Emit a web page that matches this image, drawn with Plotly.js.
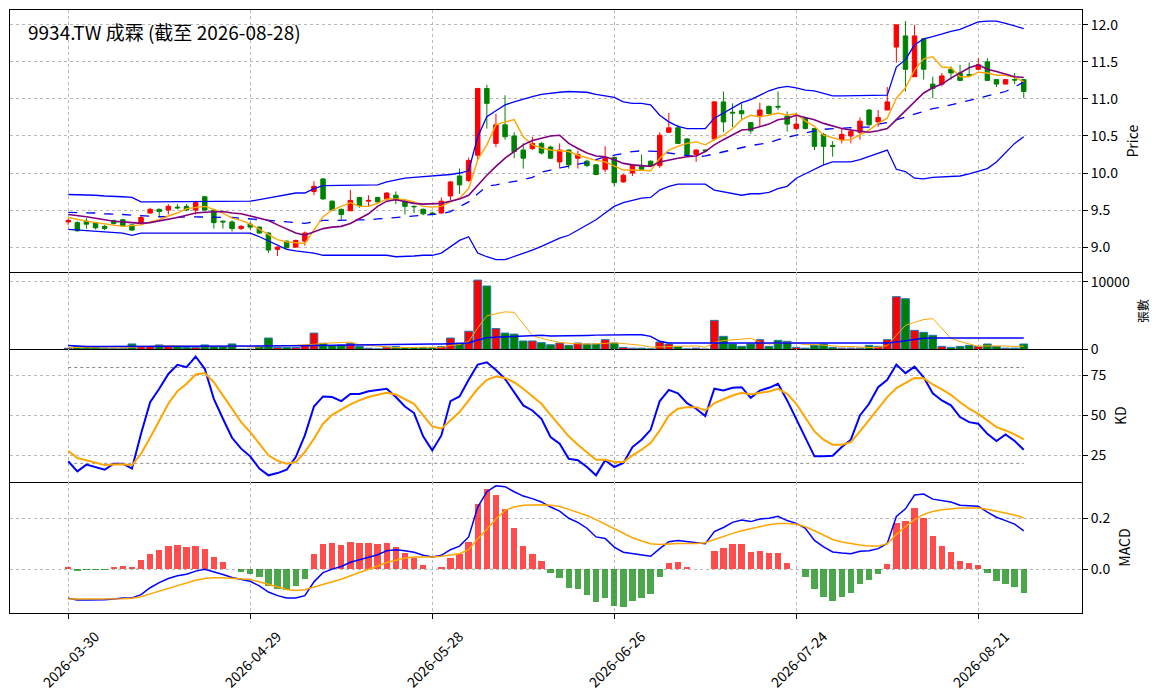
<!DOCTYPE html>
<html>
<head>
<meta charset="utf-8">
<script src="https://cdn.plot.ly/plotly-3.0.1.min.js"></script>
<style>
  html, body { margin: 0; padding: 0; background: #fff; }
  #plot { width: 1163px; height: 698px; }
</style>
</head>
<body>
<div id="plot"></div>
<script>
// trading calendar (TWSE holidays inside the window)
var startDay = '2026-03-30';
var endDay = '2026-08-28';
var holidays = ['2026-04-03', '2026-04-06', '2026-05-01', '2026-06-19'];
var tickDates = ['2026-03-30', '2026-04-29', '2026-05-28', '2026-06-26', '2026-07-24', '2026-08-21'];

// candles
var opens = [9.34,9.33,9.35,9.33,9.28,9.36,9.37,9.30,9.32,9.46,
  9.51,9.50,9.54,9.55,9.50,9.68,9.50,9.35,9.34,9.25,
  9.31,9.27,9.19,8.97,9.08,9.00,9.08,9.75,9.92,9.62,
  9.51,9.49,9.67,9.62,9.67,9.65,9.70,9.62,9.55,9.51,
  9.46,9.46,9.69,9.96,9.90,10.24,11.14,10.40,10.65,10.50,
  10.31,10.33,10.40,10.35,10.15,10.31,10.20,10.16,10.11,10.05,
  10.21,9.88,10.00,10.10,10.16,10.10,10.55,10.61,10.46,10.25,
  10.31,10.46,10.96,10.82,10.84,10.68,10.76,10.90,10.90,10.77,
  10.60,10.74,10.60,10.52,10.37,10.45,10.50,10.55,10.85,10.69,
  10.85,11.70,11.85,11.30,11.81,11.20,11.20,11.40,11.35,11.33,
  11.40,11.50,11.26,11.20,11.26,11.26];
var highs = [9.39,9.35,9.39,9.34,9.30,9.37,9.38,9.31,9.43,9.53,
  9.52,9.58,9.58,9.58,9.61,9.69,9.50,9.36,9.36,9.30,
  9.34,9.28,9.20,9.01,9.09,9.10,9.21,9.89,9.93,9.63,
  9.52,9.77,9.68,9.70,9.68,9.74,9.75,9.64,9.56,9.52,
  9.48,9.67,9.89,10.06,10.21,11.15,11.19,10.80,11.05,10.55,
  10.40,10.49,10.42,10.37,10.40,10.32,10.30,10.18,10.12,10.36,
  10.22,9.99,10.12,10.25,10.17,10.55,10.81,10.65,10.47,10.32,
  10.32,10.97,11.10,10.94,10.94,10.69,10.95,10.91,11.10,10.83,
  10.81,10.75,10.61,10.54,10.43,10.60,10.60,10.75,10.86,10.85,
  11.16,12.00,12.05,12.00,11.82,11.30,11.35,11.44,11.46,11.49,
  11.55,11.55,11.27,11.27,11.35,11.27];
var lows = [9.30,9.21,9.25,9.24,9.23,9.30,9.28,9.22,9.31,9.45,
  9.42,9.44,9.51,9.49,9.44,9.49,9.25,9.25,9.21,9.23,
  9.23,9.18,8.92,8.88,8.98,8.99,9.02,9.70,9.64,9.49,
  9.37,9.49,9.53,9.55,9.60,9.63,9.58,9.44,9.46,9.43,
  9.43,9.45,9.63,9.72,9.88,10.18,10.60,10.35,10.45,10.20,
  10.06,10.31,10.25,10.19,10.06,10.06,10.06,10.08,9.97,10.01,
  9.82,9.87,9.96,10.04,10.09,10.07,10.54,10.39,10.24,10.15,
  10.29,10.44,10.55,10.62,10.73,10.53,10.62,10.79,10.85,10.56,
  10.58,10.59,10.31,10.11,10.22,10.40,10.40,10.45,10.64,10.62,
  10.85,11.49,11.10,11.30,11.26,11.01,11.17,11.26,11.24,11.31,
  11.39,11.25,11.16,11.20,11.20,11.01];
var closes = [9.36,9.22,9.31,9.26,9.25,9.32,9.29,9.23,9.40,9.51,
  9.48,9.55,9.53,9.50,9.60,9.50,9.33,9.34,9.25,9.28,
  9.27,9.19,8.96,9.00,8.99,9.09,9.19,9.82,9.65,9.50,
  9.44,9.63,9.56,9.63,9.61,9.73,9.64,9.55,9.545,9.45,
  9.45,9.62,9.88,9.84,10.17,11.14,10.94,10.65,10.49,10.29,
  10.20,10.40,10.27,10.20,10.31,10.11,10.25,10.10,9.98,10.21,
  9.87,9.97,10.11,10.05,10.10,10.51,10.61,10.40,10.25,10.31,
  10.30,10.96,10.69,10.81,10.80,10.57,10.85,10.80,10.89,10.66,
  10.66,10.60,10.36,10.36,10.36,10.52,10.56,10.70,10.65,10.75,
  10.96,12.00,11.40,11.85,11.40,11.14,11.31,11.35,11.25,11.32,
  11.46,11.25,11.20,11.26,11.255,11.10];

// moving averages and bollinger bands
var ma5 = [9.40,9.37,9.35,9.33,9.31,9.30,9.28,9.29,9.30,9.34,
  9.37,9.42,9.46,9.52,9.54,9.55,9.51,9.46,9.39,9.36,
  9.31,9.24,9.18,9.10,9.07,9.06,9.05,9.23,9.41,9.50,
  9.55,9.60,9.55,9.55,9.59,9.65,9.65,9.64,9.61,9.55,
  9.54,9.55,9.61,9.66,9.79,10.18,10.38,10.65,10.69,10.72,
  10.49,10.38,10.34,10.31,10.30,10.29,10.24,10.20,10.17,10.15,
  10.10,10.04,10.04,10.04,10.03,10.20,10.31,10.36,10.40,10.42,
  10.38,10.45,10.51,10.60,10.72,10.78,10.76,10.78,10.81,10.78,
  10.80,10.70,10.63,10.51,10.47,10.44,10.45,10.51,10.58,10.67,
  10.74,11.01,11.15,11.39,11.54,11.57,11.43,11.42,11.30,11.30,
  11.36,11.35,11.32,11.32,11.29,11.23];
var ma10 = [9.44,9.43,9.41,9.39,9.37,9.35,9.34,9.33,9.32,9.33,
  9.35,9.37,9.40,9.43,9.46,9.47,9.48,9.48,9.46,9.45,
  9.42,9.39,9.36,9.30,9.25,9.19,9.16,9.21,9.25,9.27,
  9.28,9.32,9.39,9.45,9.55,9.62,9.64,9.61,9.59,9.58,
  9.58,9.59,9.62,9.65,9.70,9.84,9.97,10.09,10.20,10.29,
  10.38,10.44,10.47,10.50,10.51,10.40,10.33,10.27,10.23,10.22,
  10.18,10.13,10.11,10.10,10.09,10.15,10.18,10.20,10.22,10.23,
  10.29,10.38,10.45,10.51,10.58,10.59,10.63,10.66,10.72,10.74,
  10.78,10.75,10.72,10.67,10.63,10.60,10.58,10.56,10.55,10.57,
  10.60,10.72,10.84,10.96,11.08,11.15,11.20,11.28,11.35,11.42,
  11.46,11.40,11.37,11.34,11.30,11.29];
var bbMid = [9.47,9.47,9.46,9.46,9.45,9.45,9.44,9.43,9.42,9.42,
  9.41,9.41,9.40,9.41,9.41,9.41,9.41,9.40,9.40,9.39,
  9.38,9.37,9.36,9.35,9.35,9.33,9.32,9.34,9.36,9.36,
  9.36,9.37,9.37,9.37,9.38,9.39,9.40,9.41,9.42,9.43,
  9.43,9.45,9.48,9.55,9.61,9.72,9.82,9.84,9.86,9.88,
  9.91,9.94,10.01,10.04,10.07,10.10,10.12,10.14,10.18,10.22,
  10.24,10.27,10.29,10.30,10.30,10.29,10.27,10.25,10.23,10.22,
  10.23,10.26,10.29,10.31,10.34,10.37,10.39,10.41,10.45,10.48,
  10.51,10.55,10.57,10.59,10.60,10.61,10.61,10.62,10.62,10.66,
  10.68,10.72,10.76,10.80,10.84,10.87,10.89,10.92,10.95,10.98,
  11.00,11.03,11.07,11.10,11.16,11.23];
var bbUpper = [9.71,9.71,9.70,9.70,9.69,9.69,9.68,9.67,9.61,9.61,
  9.61,9.61,9.61,9.61,9.61,9.61,9.61,9.61,9.61,9.61,
  9.62,9.64,9.66,9.68,9.70,9.73,9.73,9.79,9.83,9.83,
  9.83,9.83,9.83,9.84,9.84,9.88,9.91,9.93,9.94,9.95,
  9.95,9.97,9.98,10.00,10.03,10.49,10.76,10.84,10.92,10.96,
  11.00,11.03,11.06,11.08,11.09,11.10,11.10,11.09,11.06,11.04,
  11.02,10.96,10.94,10.94,10.92,10.78,10.69,10.63,10.60,10.60,
  10.60,10.74,10.81,10.87,10.95,10.99,11.05,11.11,11.15,11.17,
  11.15,11.12,11.11,11.07,11.04,11.04,11.04,11.04,11.04,11.04,
  11.05,11.43,11.53,11.73,11.81,11.84,11.88,11.91,11.94,11.99,
  12.04,12.05,12.05,12.02,11.99,11.95];
var bbLower = [9.24,9.23,9.22,9.22,9.21,9.20,9.19,9.16,9.19,9.19,
  9.19,9.19,9.19,9.19,9.19,9.19,9.19,9.19,9.19,9.19,
  9.19,9.14,9.08,9.03,8.97,8.95,8.94,8.92,8.89,8.89,
  8.89,8.89,8.89,8.89,8.89,8.89,8.87,8.87,8.88,8.89,
  8.89,8.92,9.00,9.09,9.14,8.92,8.87,8.83,8.83,8.87,
  8.92,8.96,9.01,9.07,9.12,9.16,9.23,9.31,9.37,9.46,
  9.55,9.60,9.63,9.66,9.67,9.77,9.82,9.85,9.85,9.85,
  9.85,9.77,9.75,9.72,9.70,9.72,9.72,9.74,9.79,9.82,
  9.93,9.99,10.05,10.11,10.15,10.15,10.15,10.18,10.22,10.27,
  10.31,10.05,10.02,9.93,9.92,9.94,9.95,9.95,9.96,9.99,
  10.02,10.06,10.15,10.27,10.40,10.49];

// volume (張)
var volumes = [190,430,290,340,190,150,190,820,430,430,
  670,430,430,290,290,670,430,430,820,60,
  60,430,1690,290,290,290,580,2420,910,580,
  670,910,430,190,100,340,430,290,290,290,
  290,430,1690,910,2700,10240,9370,3090,2420,2270,
  1260,1260,1010,700,950,610,950,810,810,1450,
  950,310,200,200,100,1100,810,460,100,200,
  80,4300,1940,810,460,810,1450,460,1350,1200,
  310,200,610,810,310,200,200,200,610,460,
  1450,7800,7500,2830,2530,2090,460,310,460,610,
  460,810,460,200,200,810];
var volMa5 = [300,290,290,290,290,280,230,340,360,400,
  510,560,480,450,420,420,420,420,530,480,
  360,360,610,510,550,600,630,770,900,960,
  1030,1100,700,560,460,390,300,270,290,330,
  320,320,600,720,1200,3190,4980,5260,5560,5480,
  3680,2060,1640,1300,1040,910,840,800,830,930,
  990,870,740,620,350,380,480,530,510,530,
  330,1030,1320,1470,1520,1660,1090,800,910,1050,
  950,700,730,630,450,430,430,340,300,330,
  580,2100,3560,4010,4420,4550,3080,1640,1170,790,
  460,530,560,510,430,500];
var volMa20 = [600,580,450,430,430,430,430,430,430,430,
  430,430,430,430,430,430,430,430,440,440,
  450,470,500,520,540,560,580,600,620,640,
  670,700,730,760,790,800,810,810,820,820,
  820,820,830,850,960,1400,1740,1820,1880,1930,
  1980,2050,2100,2000,2000,2050,2050,2080,2120,2160,
  2190,2190,2190,2190,1940,1200,950,950,950,950,
  900,870,850,850,850,850,850,850,850,850,
  850,850,850,850,850,850,850,880,900,920,
  950,1100,1300,1500,1650,1700,1700,1700,1700,1700,
  1700,1700,1700,1700,1700,1700];

// KD
var kLine = [21.3,15.0,19.2,17.7,16.0,19.8,19.8,16.7,38.5,58.3,
  66.7,76.0,81.7,80.2,86.9,79.2,60.4,47.9,36.0,29.2,
  24.4,16.7,12.5,13.9,16.0,23.9,37.5,55.6,61.9,61.5,
  59.0,63.5,63.5,65.2,66.0,66.7,61.5,55.6,51.5,36.9,
  28.1,37.5,59.0,61.9,72.3,81.9,83.3,78.5,72.9,64.6,
  56.3,53.1,47.9,36.5,32.3,22.9,21.9,17.7,12.5,21.9,
  17.7,20.2,30.2,34.8,41.0,59.0,66.0,63.9,57.7,54.2,
  49.6,66.7,65.6,67.3,67.7,61.0,65.6,67.3,69.8,59.4,
  47.9,36.0,24.4,24.4,24.8,30.2,34.8,50.0,57.3,67.7,
  72.3,81.9,76.5,80.6,73.9,63.9,59.4,56.3,49.0,45.8,
  44.8,38.5,34.0,38.1,34.0,28.5];
var dLine = [27.7,23.3,21.9,20.6,18.9,19.2,19.4,18.8,26.0,36.0,
  46.9,57.3,65.2,69.8,75.6,76.5,70.8,62.5,53.5,45.8,
  39.6,32.3,25.0,21.5,19.8,20.8,27.1,35.4,44.8,50.4,
  53.5,56.9,59.4,61.5,62.9,64.2,63.1,60.4,57.3,50.0,
  43.1,41.7,46.9,52.1,59.4,66.7,72.3,74.4,73.5,70.8,
  66.7,61.9,57.3,50.3,43.8,36.9,31.7,27.1,22.3,22.3,
  20.8,20.8,25.0,28.5,32.7,40.6,50.0,54.2,55.2,55.2,
  53.1,57.7,60.0,62.5,64.2,63.1,64.2,65.0,66.7,63.5,
  57.3,49.0,40.0,34.8,31.7,31.7,33.3,40.0,47.3,54.2,
  61.5,67.1,70.2,73.5,73.3,69.4,66.3,62.9,58.3,54.2,
  51.0,46.9,42.7,40.6,38.1,35.0];
var kdHigh = 80;
var kdLow = 20;

// MACD
var dif = [-0.113,-0.12,-0.12,-0.12,-0.119,-0.116,-0.112,-0.112,-0.099,-0.072,
  -0.052,-0.036,-0.025,-0.019,-0.007,0.0,-0.009,-0.02,-0.032,-0.04,
  -0.047,-0.065,-0.089,-0.103,-0.112,-0.112,-0.103,-0.049,-0.013,0.001,
  0.011,0.028,0.037,0.048,0.057,0.073,0.077,0.073,0.067,0.055,
  0.048,0.055,0.077,0.091,0.127,0.244,0.304,0.327,0.324,0.304,
  0.287,0.277,0.264,0.244,0.228,0.2,0.184,0.161,0.127,0.121,
  0.087,0.067,0.061,0.055,0.051,0.081,0.108,0.113,0.108,0.104,
  0.1,0.148,0.164,0.184,0.193,0.187,0.197,0.2,0.208,0.191,
  0.18,0.161,0.113,0.088,0.068,0.064,0.061,0.071,0.073,0.081,
  0.101,0.207,0.237,0.291,0.295,0.275,0.268,0.264,0.251,0.248,
  0.247,0.224,0.204,0.191,0.177,0.151];
var signal = [-0.116,-0.116,-0.116,-0.116,-0.116,-0.116,-0.115,-0.113,-0.107,-0.096,
  -0.085,-0.073,-0.063,-0.052,-0.043,-0.036,-0.033,-0.033,-0.036,-0.039,
  -0.04,-0.049,-0.06,-0.069,-0.079,-0.083,-0.08,-0.069,-0.06,-0.049,
  -0.039,-0.025,-0.013,0.0,0.013,0.027,0.037,0.044,0.048,0.048,
  0.048,0.051,0.055,0.061,0.077,0.12,0.157,0.197,0.231,0.244,
  0.251,0.253,0.253,0.251,0.246,0.235,0.224,0.211,0.195,0.177,
  0.161,0.141,0.124,0.111,0.1,0.097,0.1,0.101,0.101,0.101,
  0.104,0.117,0.128,0.141,0.151,0.16,0.168,0.175,0.18,0.18,
  0.177,0.167,0.151,0.135,0.117,0.107,0.1,0.095,0.091,0.091,
  0.1,0.137,0.167,0.195,0.215,0.227,0.233,0.237,0.24,0.24,
  0.24,0.235,0.228,0.22,0.213,0.201];
var macdHist = [0.009,-0.005,-0.002,-0.002,-0.002,0.008,0.013,0.009,0.035,0.061,
  0.077,0.093,0.097,0.089,0.093,0.081,0.049,0.029,0.003,-0.009,
  -0.017,-0.029,-0.065,-0.077,-0.081,-0.065,-0.037,0.061,0.101,0.105,
  0.097,0.109,0.105,0.105,0.101,0.105,0.089,0.065,0.045,0.017,
  0.002,0.009,0.045,0.061,0.109,0.257,0.313,0.291,0.237,0.161,
  0.091,0.061,0.031,-0.013,-0.033,-0.073,-0.077,-0.101,-0.129,-0.113,
  -0.145,-0.149,-0.125,-0.113,-0.097,-0.029,0.025,0.029,0.009,0.001,
  0.001,0.073,0.085,0.101,0.101,0.069,0.073,0.065,0.065,0.025,
  0.001,-0.029,-0.077,-0.109,-0.125,-0.109,-0.093,-0.057,-0.041,-0.017,
  0.021,0.181,0.189,0.241,0.201,0.129,0.093,0.069,0.033,0.025,
  0.017,-0.013,-0.045,-0.057,-0.069,-0.093];

function tradingDays(from, to, skip) {
  var out = [];
  var d = new Date(from + 'T00:00:00Z');
  var last = new Date(to + 'T00:00:00Z');
  while (d <= last) {
    var s = d.toISOString().slice(0, 10);
    var wd = d.getUTCDay();
    if (wd !== 0 && wd !== 6 && skip.indexOf(s) < 0) out.push(s);
    d.setUTCDate(d.getUTCDate() + 1);
  }
  return out;
}

var dates = tradingDays(startDay, endDay, holidays);

var UP = '#ff0000', DOWN = '#008000';
var fontFam = '"Noto Sans CJK TC", "Noto Sans", sans-serif';

var volColors = closes.map(function(c, i) { return c >= opens[i] ? UP : DOWN; });
var histColors = macdHist.map(function(v) { return v >= 0 ? 'rgba(255,0,0,0.7)' : 'rgba(0,128,0,0.7)'; });

var traces = [
  {x: dates, y: bbUpper, type: 'scatter', mode: 'lines', line: {color: '#0000ff', width: 1.3}, xaxis: 'x', yaxis: 'y'},
  {x: dates, y: bbLower, type: 'scatter', mode: 'lines', line: {color: '#0000ff', width: 1.3}, xaxis: 'x', yaxis: 'y'},
  {x: dates, y: bbMid, type: 'scatter', mode: 'lines', line: {color: '#0000ff', width: 1.3, dash: 'dash'}, xaxis: 'x', yaxis: 'y'},
  {x: dates, y: ma5, type: 'scatter', mode: 'lines', line: {color: '#ffa500', width: 1.4}, xaxis: 'x', yaxis: 'y'},
  {x: dates, y: ma10, type: 'scatter', mode: 'lines', line: {color: '#800080', width: 1.6}, xaxis: 'x', yaxis: 'y'},
  {
    x: dates, open: opens, high: highs, low: lows, close: closes,
    type: 'candlestick', xaxis: 'x', yaxis: 'y', whiskerwidth: 0,
    increasing: {line: {color: UP, width: 1}, fillcolor: UP},
    decreasing: {line: {color: DOWN, width: 1}, fillcolor: DOWN}
  },
  {x: dates, y: volumes, type: 'bar', width: 0.85, xaxis: 'x2', yaxis: 'y2',
    marker: {color: volColors, line: {color: '#1f77b4', width: 1}}},
  {x: dates, y: volMa5, type: 'scatter', mode: 'lines', line: {color: '#ffa500', width: 1}, xaxis: 'x2', yaxis: 'y2'},
  {x: dates, y: volMa20, type: 'scatter', mode: 'lines', line: {color: '#0000ff', width: 1.5}, xaxis: 'x2', yaxis: 'y2'},
  {x: [dates[0], dates[dates.length - 1]], y: [kdHigh, kdHigh], type: 'scatter', mode: 'lines',
    line: {color: '#888888', width: 1, dash: 'dot'}, xaxis: 'x3', yaxis: 'y3'},
  {x: [dates[0], dates[dates.length - 1]], y: [kdLow, kdLow], type: 'scatter', mode: 'lines',
    line: {color: '#888888', width: 1, dash: 'dot'}, xaxis: 'x3', yaxis: 'y3'},
  {x: dates, y: kLine, type: 'scatter', mode: 'lines', line: {color: '#0000ff', width: 2}, xaxis: 'x3', yaxis: 'y3'},
  {x: dates, y: dLine, type: 'scatter', mode: 'lines', line: {color: '#ffa500', width: 2}, xaxis: 'x3', yaxis: 'y3'},
  {x: dates, y: macdHist, type: 'bar', width: 0.7, xaxis: 'x4', yaxis: 'y4', marker: {color: histColors}},
  {x: dates, y: dif, type: 'scatter', mode: 'lines', line: {color: '#0000ff', width: 1.5}, xaxis: 'x4', yaxis: 'y4'},
  {x: dates, y: signal, type: 'scatter', mode: 'lines', line: {color: '#ffa500', width: 1.5}, xaxis: 'x4', yaxis: 'y4'}
];

var xRange = [-6.4, 111.4];
function xAxis(anchor, labels, mirror) {
  return {
    type: 'category', anchor: anchor, range: xRange, domain: [0, 1],
    tickvals: tickDates, ticktext: tickDates, showticklabels: labels,
    ticks: labels ? 'outside' : '', ticklen: 5, tickcolor: '#000', tickangle: -45,
    ticklabelshift: 27, ticklabelstandoff: 4,
    tickfont: {family: fontFam, size: 14, color: '#000'},
    showgrid: true, gridcolor: '#b8b8b8', griddash: 'dot', gridwidth: 1,
    showline: true, mirror: mirror, linecolor: '#000', linewidth: 1,
    zeroline: false, rangeslider: {visible: false}, fixedrange: true
  };
}
function yAxis(anchor, domain, range, vals, text, title, titleSize) {
  return {
    anchor: anchor, side: 'right', domain: domain, range: range,
    tickvals: vals, ticktext: text, ticks: 'outside', ticklen: 5, tickcolor: '#000',
    tickfont: {family: fontFam, size: 14, color: '#000'},
    title: {text: title, font: {family: fontFam, size: titleSize, color: '#000'}, standoff: 10},
    showgrid: true, gridcolor: '#b8b8b8', griddash: 'dot', gridwidth: 1,
    showline: true, mirror: true, linecolor: '#000', linewidth: 1,
    zeroline: false, fixedrange: true
  };
}

var layout = {
  width: 1163, height: 698,
  margin: {l: 10, r: 81, t: 10, b: 85},
  paper_bgcolor: '#fff', plot_bgcolor: '#fff',
  showlegend: false, hovermode: false,
  bargap: 0,
  xaxis: xAxis('y', false, true),
  xaxis2: Object.assign(xAxis('y2', false, false), {matches: 'x'}),
  xaxis3: Object.assign(xAxis('y3', false, false), {matches: 'x'}),
  xaxis4: Object.assign(xAxis('y4', true, false), {matches: 'x'}),
  yaxis: yAxis('x', [0.565, 1], [8.66, 12.20], [9.0, 9.5, 10.0, 10.5, 11.0, 11.5, 12.0],
    ['9.0', '9.5', '10.0', '10.5', '11.0', '11.5', '12.0'], 'Price', 14),
  yaxis2: yAxis('x2', [0.437, 0.565], [0, 11390], [0, 10000], ['0', '10000'], '張數', 12),
  yaxis3: yAxis('x3', [0.2172, 0.437], [8.3, 91.3], [25, 50, 75], ['25', '50', '75'], 'KD', 14),
  yaxis4: yAxis('x4', [0, 0.2172], [-0.171, 0.342], [0.0, 0.2], ['0.0', '0.2'], 'MACD', 14),
  annotations: [{
    text: '9934.TW 成霖 (截至 ' + endDay + ')', xref: 'paper', yref: 'paper',
    x: 0.0149, y: 0.965, xanchor: 'left', yanchor: 'middle', showarrow: false,
    font: {family: fontFam, size: 19, color: '#000'}
  }]
};

Plotly.newPlot('plot', traces, layout, {displayModeBar: false, staticPlot: true});
</script>
</body>
</html>
